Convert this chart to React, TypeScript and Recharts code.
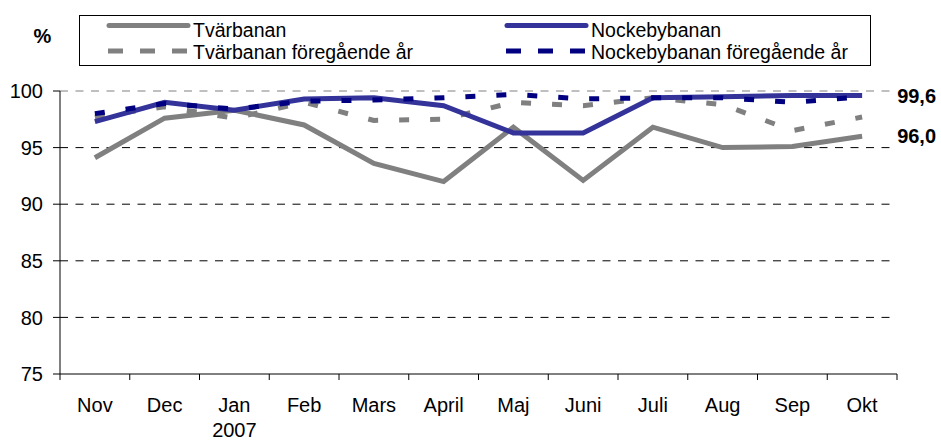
import React from 'react';
import { LineChart, Line, XAxis, YAxis, CartesianGrid, ReferenceLine, LabelList } from 'recharts';

const months = ['Nov', 'Dec', 'Jan', 'Feb', 'Mars', 'April', 'Maj', 'Juni', 'Juli', 'Aug', 'Sep', 'Okt'];
const subLabels = ['', '', '2007', '', '', '', '', '', '', '', '', ''];
const tvarbanan = [94.1, 97.6, 98.3, 97.0, 93.6, 92.0, 96.8, 92.1, 96.8, 95.0, 95.1, 96.0];
const nockebybanan = [97.3, 99.0, 98.3, 99.3, 99.4, 98.7, 96.3, 96.3, 99.4, 99.5, 99.6, 99.6];
const tvarbananPrev = [97.7, 98.6, 97.6, 99.0, 97.4, 97.5, 99.0, 98.7, 99.4, 98.8, 96.5, 97.7];
const nockebybananPrev = [98.0, 98.9, 98.4, 99.1, 99.2, 99.4, 99.7, 99.3, 99.4, 99.4, 99.0, 99.5];
const yTicks = [75, 80, 85, 90, 95, 100];
const gridValues = [80, 85, 90, 95];

const data = months.map((m, i) => ({
  month: m,
  tvar: tvarbanan[i],
  nock: nockebybanan[i],
  tvarPrev: tvarbananPrev[i],
  nockPrev: nockebybananPrev[i],
}));

const FONT = '"Liberation Sans", Arial, sans-serif';
const W = 941;
const H = 441;
const M_LEFT = 60;
const M_RIGHT = 44;
const HALF_BAND = (W - M_LEFT - M_RIGHT) / months.length / 2;

const XTick = (props: any) => {
  const { x, y, payload, index } = props;
  const i = payload.index ?? index;
  const sub = subLabels[i];
  return (
    <g>
      <line x1={x - HALF_BAND} y1={y} x2={x - HALF_BAND} y2={y + 6} stroke="#000" />
      {i === months.length - 1 ? (
        <line x1={x + HALF_BAND} y1={y} x2={x + HALF_BAND} y2={y + 6} stroke="#000" />
      ) : null}
      <text x={x} y={y + 37.5} textAnchor="middle" fontSize={20} fontFamily={FONT} fill="#000">
        {payload.value}
      </text>
      {sub ? (
        <text x={x} y={y + 62.5} textAnchor="middle" fontSize={20} fontFamily={FONT} fill="#000">
          {sub}
        </text>
      ) : null}
    </g>
  );
};

const lastLabel = (props: any) => {
  const { x, y, index, value } = props;
  if (index !== months.length - 1) return null;
  return (
    <text x={x + 35} y={y + 7} textAnchor="start" fontSize={20} fontWeight="bold" fontFamily={FONT} fill="#000">
      {Number(value).toFixed(1).replace('.', ',')}
    </text>
  );
};

const legendItems = [
  { name: 'Tvärbanan', color: '#808080', dash: false },
  { name: 'Nockebybanan', color: '#333399', dash: false },
  { name: 'Tvärbanan föregående år', color: '#808080', dash: true },
  { name: 'Nockebybanan föregående år', color: '#000080', dash: true },
];

const ChartLegend = () => (
  <g>
    <rect x={79.5} y={15.5} width={791} height={50} fill="#fff" stroke="#000" strokeWidth={1} />
    {legendItems.map((it, i) => {
      const col = i % 2;
      const row = Math.floor(i / 2);
      const x0 = col === 0 ? 107 : 505;
      const lineY = row === 0 ? 25.5 : 51;
      const baseY = row === 0 ? 37 : 58.5;
      return (
        <g key={it.name}>
          {it.dash ? (
            <line x1={x0 + 1} y1={lineY} x2={x0 + 83} y2={lineY} stroke={it.color} strokeWidth={5} strokeDasharray="15 17" />
          ) : (
            <line x1={x0 + 2} y1={lineY} x2={x0 + 81} y2={lineY} stroke={it.color} strokeWidth={5} strokeLinecap="round" />
          )}
          <text x={x0 + 86} y={baseY} fontSize={19.5} fontFamily={FONT} fill="#000">
            {it.name}
          </text>
        </g>
      );
    })}
  </g>
);

export default function App() {
  return (
    <div style={{ position: 'absolute', left: 0, top: 0, width: W, height: H, background: '#fff' }}>
      <LineChart width={W} height={H} data={data} margin={{ top: 91, right: M_RIGHT, bottom: 0, left: 0 }}>
        <CartesianGrid vertical={false} horizontalValues={gridValues} stroke="#000" strokeDasharray="8 7.5" strokeWidth={1} />
        <ReferenceLine y={100} stroke="#808080" strokeDasharray="8 7.5" strokeWidth={1} />
        <XAxis
          dataKey="month"
          height={67}
          interval={0}
          padding={{ left: HALF_BAND, right: HALF_BAND }}
          tick={<XTick />}
          tickLine={false}
          tickSize={0}
          tickMargin={0}
          axisLine={{ stroke: '#000' }}
        />
        <YAxis
          domain={[75, 100]}
          ticks={yTicks}
          width={M_LEFT}
          tickSize={7}
          tickMargin={10}
          tick={{ fontSize: 20, fontFamily: FONT, fill: '#000' }}
          axisLine={{ stroke: '#000' }}
          tickLine={{ stroke: '#000' }}
          allowDataOverflow
        />
        <Line dataKey="tvarPrev" name="Tvärbanan föregående år" stroke="#808080" strokeWidth={5} strokeDasharray="10 21" dot={false} isAnimationActive={false} />
        <Line dataKey="tvar" name="Tvärbanan" stroke="#808080" strokeWidth={5} dot={false} isAnimationActive={false}>
          <LabelList dataKey="tvar" content={lastLabel} />
        </Line>
        <Line dataKey="nock" name="Nockebybanan" stroke="#333399" strokeWidth={5} dot={false} isAnimationActive={false}>
          <LabelList dataKey="nock" content={lastLabel} />
        </Line>
        <Line dataKey="nockPrev" name="Nockebybanan föregående år" stroke="#000080" strokeWidth={5} strokeDasharray="10 21" dot={false} isAnimationActive={false} />
        <text x={42.5} y={43} textAnchor="middle" fontSize={20} fontWeight="bold" fontFamily={FONT} fill="#000">
          %
        </text>
        <ChartLegend />
      </LineChart>
    </div>
  );
}
